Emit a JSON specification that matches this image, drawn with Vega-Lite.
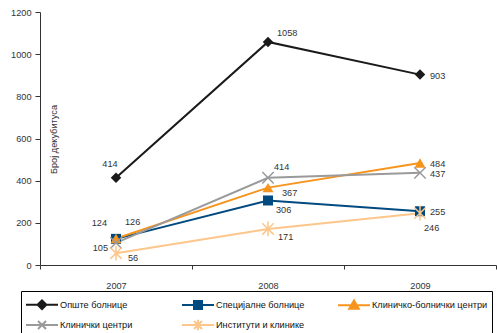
{
  "$schema": "https://vega.github.io/schema/vega-lite/v6.json",
  "width": 456,
  "height": 253,
  "autosize": {"type": "none"},
  "padding": {"left": 40, "top": 12, "right": 1, "bottom": 68},
  "config": {
    "font": "Liberation Sans",
    "view": {"stroke": null},
    "axis": {"labelFontSize": 9.2, "labelColor": "#333", "domainColor": "#333", "tickColor": "#333", "grid": false, "titleFontWeight": "normal", "titleColor": "#333"},
    "text": {"fontSize": 9.2, "color": "#333", "baseline": "middle", "align": "left"}
  },
  "data": {
    "values": [
      {"series": "Опште болнице", "year": "2007", "value": 414},
      {"series": "Опште болнице", "year": "2008", "value": 1058},
      {"series": "Опште болнице", "year": "2009", "value": 903},
      {"series": "Специјалне болнице", "year": "2007", "value": 124},
      {"series": "Специјалне болнице", "year": "2008", "value": 306},
      {"series": "Специјалне болнице", "year": "2009", "value": 255},
      {"series": "Клиничко-болнички центри", "year": "2007", "value": 126},
      {"series": "Клиничко-болнички центри", "year": "2008", "value": 367},
      {"series": "Клиничко-болнички центри", "year": "2009", "value": 484},
      {"series": "Клинички центри", "year": "2007", "value": 105},
      {"series": "Клинички центри", "year": "2008", "value": 414},
      {"series": "Клинички центри", "year": "2009", "value": 437},
      {"series": "Институти и клинике", "year": "2007", "value": 56},
      {"series": "Институти и клинике", "year": "2008", "value": 171},
      {"series": "Институти и клинике", "year": "2009", "value": 246}
    ]
  },
  "encoding": {
    "x": {
      "field": "year", "type": "ordinal",
      "scale": {"type": "band", "paddingInner": 0, "paddingOuter": 0},
      "axis": {"title": null, "labelAngle": 0, "tickBand": "extent", "tickSize": 4, "labelPadding": 12, "labelBaseline": "top"}
    },
    "y": {
      "field": "value", "type": "quantitative",
      "scale": {"domain": [0, 1200], "nice": false},
      "axis": {
        "values": [0, 200, 400, 600, 800, 1000, 1200],
        "format": "d",
        "tickSize": 5, "labelPadding": 4,
        "title": "Број декубитуса", "titleFontSize": 9.2,
        "titleX": 13, "titleY": 127, "titleAngle": -90,
        "titleAlign": "center", "titleBaseline": "middle"
      }
    },
    "color": {
      "field": "series", "type": "nominal",
      "scale": {
        "domain": ["Опште болнице", "Специјалне болнице", "Клиничко-болнички центри", "Клинички центри", "Институти и клинике"],
        "range": ["#1a1a1a", "#004a80", "#f7941d", "#9a9a9a", "#fdc68a"]
      },
      "legend": {
        "title": null,
        "orient": "none",
        "legendX": -19,
        "legendY": 279,
        "direction": "horizontal",
        "columns": 3,
        "gridAlign": "all",
        "columnPadding": 2,
        "rowPadding": 1,
        "padding": 4,
        "strokeColor": "#000",
        "fillColor": "#fff",
        "labelFontSize": 9.2,
        "labelColor": "#111",
        "labelLimit": 0,
        "labelOffset": 17,
        "symbolSize": 256,
        "symbolStrokeWidth": 2,
        "symbolType": {"expr": "datum.value === 'Опште болнице' ? 'M-1,0L3,0M0.45,0L1,-0.55L1.55,0L1,0.55Z' : datum.value === 'Специјалне болнице' ? 'M-1,0L3,0M0.5,-0.5L1.5,-0.5L1.5,0.5L0.5,0.5Z' : datum.value === 'Клиничко-болнички центри' ? 'M-1,0L3,0M1,-0.6L1.6,0.45L0.4,0.45Z' : datum.value === 'Клинички центри' ? 'M-1,0L3,0M0.5,-0.5L1.5,0.5M1.5,-0.5L0.5,0.5' : 'M-1,0L3,0M0.5,-0.5L1.5,0.5M1.5,-0.5L0.5,0.5M1,-0.65L1,0.65'"},
        "symbolFillColor": {"expr": "scale('color', datum.value)"},
        "symbolStrokeColor": {"expr": "scale('color', datum.value)"}
      }
    }
  },
  "layer": [
    {"mark": {"type": "line", "strokeWidth": 2}},
    {
      "transform": [{"filter": "datum.series === 'Опште болнице'"}],
      "mark": {"type": "point", "shape": "diamond", "filled": true, "size": 110, "opacity": 1}
    },
    {
      "transform": [{"filter": "datum.series === 'Специјалне болнице'"}],
      "mark": {"type": "point", "shape": "square", "filled": true, "size": 100, "opacity": 1}
    },
    {
      "transform": [{"filter": "datum.series === 'Клиничко-болнички центри'"}],
      "mark": {"type": "point", "shape": "triangle-up", "filled": true, "size": 120, "opacity": 1}
    },
    {
      "transform": [{"filter": "datum.series === 'Клинички центри'"}],
      "mark": {"type": "point", "shape": "M-1,-1L1,1M1,-1L-1,1", "filled": false, "size": 130, "strokeWidth": 1.5, "opacity": 1}
    },
    {
      "transform": [{"filter": "datum.series === 'Институти и клинике'"}],
      "mark": {"type": "point", "shape": "M-1,-1L1,1M1,-1L-1,1M0,-1.3L0,1.3", "filled": false, "size": 130, "strokeWidth": 1.5, "opacity": 1}
    },
    {
      "transform": [{"filter": "datum.year === '2009' && datum.value !== 246"}],
      "mark": {"type": "text", "dx": 10, "dy": 1},
      "encoding": {"text": {"field": "value", "type": "quantitative"}, "color": {"value": "#333"}}
    },
    {
      "transform": [{"filter": "datum.year === '2008' && datum.value === 1058"}],
      "mark": {"type": "text", "dx": 9, "dy": -9},
      "encoding": {"text": {"field": "value", "type": "quantitative"}, "color": {"value": "#333"}}
    },
    {
      "transform": [{"filter": "datum.year === '2007' && datum.value === 414"}],
      "mark": {"type": "text", "align": "center", "dx": -6, "dy": -14},
      "encoding": {"text": {"field": "value", "type": "quantitative"}, "color": {"value": "#333"}}
    },
    {
      "transform": [{"filter": "datum.year === '2007' && datum.value === 124"}],
      "mark": {"type": "text", "align": "right", "dx": -9, "dy": -16},
      "encoding": {"text": {"field": "value", "type": "quantitative"}, "color": {"value": "#333"}}
    },
    {
      "transform": [{"filter": "datum.year === '2007' && datum.value === 126"}],
      "mark": {"type": "text", "dx": 9, "dy": -16},
      "encoding": {"text": {"field": "value", "type": "quantitative"}, "color": {"value": "#333"}}
    },
    {
      "transform": [{"filter": "datum.year === '2007' && datum.value === 105"}],
      "mark": {"type": "text", "align": "right", "dx": -8, "dy": 5},
      "encoding": {"text": {"field": "value", "type": "quantitative"}, "color": {"value": "#333"}}
    },
    {
      "transform": [{"filter": "datum.year === '2007' && datum.value === 56"}],
      "mark": {"type": "text", "dx": 12, "dy": 5},
      "encoding": {"text": {"field": "value", "type": "quantitative"}, "color": {"value": "#333"}}
    },
    {
      "transform": [{"filter": "datum.year === '2008' && datum.value === 306"}],
      "mark": {"type": "text", "dx": 8, "dy": 10},
      "encoding": {"text": {"field": "value", "type": "quantitative"}, "color": {"value": "#333"}}
    },
    {
      "transform": [{"filter": "datum.year === '2008' && datum.value === 367"}],
      "mark": {"type": "text", "dx": 14, "dy": 5},
      "encoding": {"text": {"field": "value", "type": "quantitative"}, "color": {"value": "#333"}}
    },
    {
      "transform": [{"filter": "datum.year === '2008' && datum.value === 414"}],
      "mark": {"type": "text", "dx": 6, "dy": -11},
      "encoding": {"text": {"field": "value", "type": "quantitative"}, "color": {"value": "#333"}}
    },
    {
      "transform": [{"filter": "datum.year === '2008' && datum.value === 171"}],
      "mark": {"type": "text", "dx": 10, "dy": 8},
      "encoding": {"text": {"field": "value", "type": "quantitative"}, "color": {"value": "#333"}}
    },
    {
      "transform": [{"filter": "datum.year === '2009' && datum.value === 246"}],
      "mark": {"type": "text", "dx": 4, "dy": 15},
      "encoding": {"text": {"field": "value", "type": "quantitative"}, "color": {"value": "#333"}}
    }
  ]
}
